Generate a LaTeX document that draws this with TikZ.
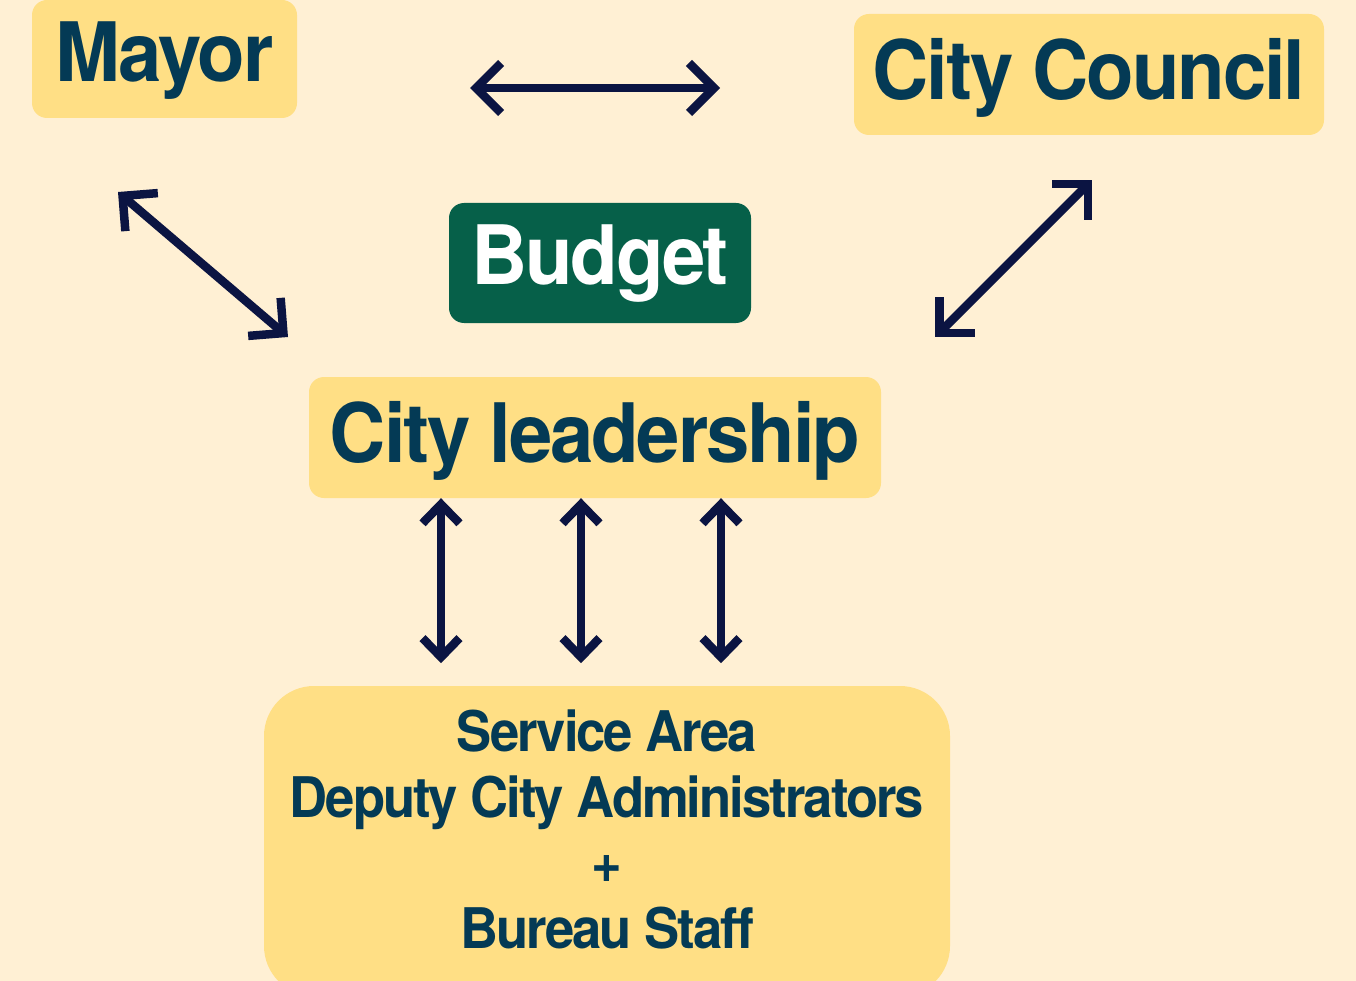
\documentclass[tikz,border=0pt]{standalone}
\usepackage{fontspec}
\setmainfont{TeX Gyre Heros}[FakeStretch=0.95,LetterSpace=-2.7]
\newfontfamily\stafffont{TeX Gyre Heros}[FakeStretch=0.94,LetterSpace=-3.6]
\usetikzlibrary{arrows.meta,calc}
\definecolor{bg}{HTML}{FFF0D4}
\definecolor{boxy}{HTML}{FFDF85}
\definecolor{txt}{HTML}{043A55}
\definecolor{arr}{HTML}{0B1442}
\definecolor{grn}{HTML}{066049}
\begin{document}
\begin{tikzpicture}[x=1pt,y=-1pt,
  ybox/.style={fill=boxy, rounded corners=15pt, inner sep=0pt, text=txt,
    font=\bfseries\fontsize{82}{82}\selectfont, text depth=0pt},
  gbox/.style={ybox, fill=grn, text=white},
  link/.style={draw=arr, line width=8.5pt, {Straight Barb[length=25pt,width=50pt]}-{Straight Barb[length=25pt,width=50pt]}},
  vlink/.style={draw=arr, line width=8.5pt, {Straight Barb[length=19pt,width=37pt]}-{Straight Barb[length=19pt,width=37pt]}},
  stafftxt/.style={text=txt, font=\stafffont\bfseries\fontsize{56}{65.5}\selectfont, align=center, inner sep=0pt}
]
\useasboundingbox (0,0) rectangle (1356,981);
\fill[bg] (0,0) rectangle (1356,981);

\node[ybox, minimum width=265pt, minimum height=118pt, text height=46pt] (mayor) at (164.5,59) {Mayor};
\node[ybox, minimum width=470pt, minimum height=121pt, text height=51pt] (council) at (1089,74.5) {City Council};
\node[gbox, minimum width=302pt, minimum height=120pt, text height=44pt] (budget) at (600,263) {Budget};
\node[ybox, minimum width=572pt, minimum height=121pt, text height=49pt] (lead) at (595,437.5) {City leadership};
\node[fill=boxy, rounded corners=50pt, minimum width=686pt, minimum height=310pt, inner sep=0pt] (staff) at (607,841) {};
\node[stafftxt] (stafftext) at (607,829.5) {Service Area\\Deputy City Administrators\\+\\Bureau Staff};

\coordinate (h1) at (470,88);
\coordinate (h2) at (720,88);
\draw[link] (h1) -- (h2);

\coordinate (m1) at (118,192);
\coordinate (m2) at (288,337);
\draw[link] (m1) -- (m2);

\coordinate (c1) at (1092,180);
\coordinate (c2) at (935,337);
\draw[link] (c1) -- (c2);

\foreach \dx [count=\i] in {-154,-14,126} {
  \coordinate (v\i a) at ($(lead.south)+(\dx,0)$);
  \coordinate (v\i b) at ($(lead.south)+(\dx,165)$);
  \draw[vlink] (v\i a) -- (v\i b);
}
\end{tikzpicture}
\end{document}
